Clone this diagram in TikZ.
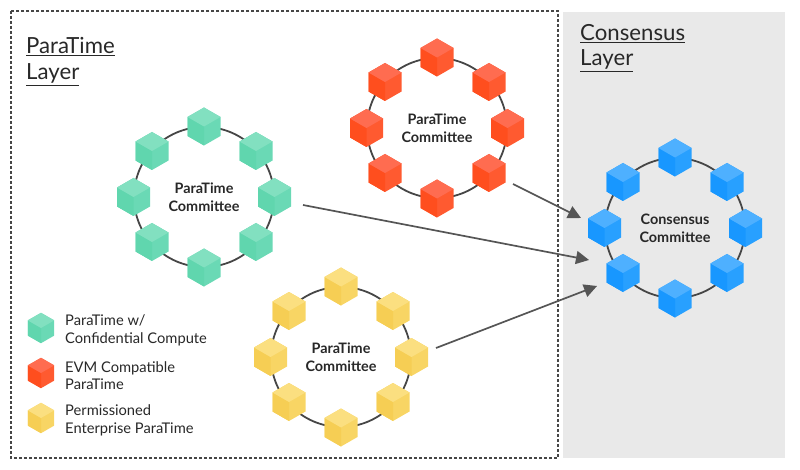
\documentclass[tikz,border=0pt]{standalone}
\usepackage{xcolor}
\usepackage{fontspec}
\setmainfont{Lato}
\usepackage{tikz}
\usetikzlibrary{arrows.meta, calc}
\definecolor{ptLine}{RGB}{70, 70, 70}
\definecolor{ptArrow}{RGB}{85, 85, 85}
\definecolor{ptText}{RGB}{40, 40, 40}
\definecolor{ptPanel}{RGB}{233, 233, 233}
\definecolor{tealTop}{RGB}{130, 224, 192}
\definecolor{tealLeft}{RGB}{96, 214, 174}
\definecolor{tealRight}{RGB}{106, 217, 181}
\definecolor{redTop}{RGB}{255, 108, 80}
\definecolor{redLeft}{RGB}{255, 78, 30}
\definecolor{redRight}{RGB}{255, 90, 48}
\definecolor{goldTop}{RGB}{251, 223, 128}
\definecolor{goldLeft}{RGB}{246, 206, 84}
\definecolor{goldRight}{RGB}{248, 213, 100}
\definecolor{blueTop}{RGB}{78, 176, 255}
\definecolor{blueLeft}{RGB}{24, 151, 255}
\definecolor{blueRight}{RGB}{40, 160, 255}
\tikzset{
    layertitle/.style={
        font=\fontsize{22.2}{25.5}\selectfont,
        text=ptText,
        align=left,
        anchor=base west,
        inner sep=0pt
    },
    ring/.style={
        circle,
        draw=ptLine,
        line width=1.8pt,
        minimum size=140pt,
        inner sep=0pt,
        align=center,
        text=ptText,
        font=\fontsize{14.4}{18}\selectfont\bfseries
    },
    legendtext/.style={
        font=\fontsize{14.7}{17.5}\selectfont,
        text=ptText,
        align=left,
        anchor=west,
        inner sep=0pt
    },
    flow/.style={
        -{Triangle[length=13pt,width=13pt]},
        line width=1.7pt,
        color=ptArrow
    },
    pics/cube/.style={
        code={
            \fill[#1Right] (0,-19) -- (16.5,-9.5) -- (16.5,9.5) -- (0,19) -- (-16.5,9.5) -- (-16.5,-9.5) -- cycle;
            \fill[#1Left] (-16.5,-9.5) -- (0,0) -- (0,19) -- (-16.5,9.5) -- cycle;
            \fill[#1Top] (0,-19) -- (16.5,-9.5) -- (0,0) -- (-16.5,-9.5) -- cycle;
        }
    }
}
% one ring with its eight cubes
\newcommand{\committee}[5]{%
  \node[ring] (#1) at (#2,#3) {#4\\Committee};
  \foreach \dx/\dy in {0/-70.5,52/-46,70.5/0,52/45,0/70.5,-52/45,-70.5/0,-52/-46}
    \pic at ($(#1)+(\dx,\dy)$) {cube=#5};
}
\begin{document}
\begin{tikzpicture}[x=1pt,y=-1pt]
  \useasboundingbox (0,0) rectangle (800,470);

  % The two layers
  \fill[ptPanel] (563,12) rectangle (785,458);
  \draw[densely dashed, line width=1.1pt, ptLine] (11,11) rectangle (558,458);
  \node[layertitle] (paratitle) at (26,79.5) {\underline{ParaTime}\\\underline{Layer}};
  \node[layertitle] (constitle) at (580,66) {\underline{Consensus}\\\underline{Layer}};

  % The committees
  \committee{redring}{437}{128}{ParaTime}{red}
  \committee{tealring}{204}{197}{ParaTime}{teal}
  \committee{goldring}{341}{357}{ParaTime}{gold}
  \committee{bluering}{675}{228}{Consensus}{blue}

  % The arrows
  \coordinate (redout) at (513,184);
  \coordinate (redin) at (581,218);
  \coordinate (tealout) at (303,205);
  \coordinate (tealin) at (589,260);
  \coordinate (goldout) at (436,348);
  \coordinate (goldin) at (597,286);
  \draw[flow] (redout) -- (redin);
  \draw[flow] (tealout) -- (tealin);
  \draw[flow] (goldout) -- (goldin);

  % The legend
  \pic[scale=0.8] at (41,328) {cube=teal};
  \pic[scale=0.8] at (41,373) {cube=red};
  \pic[scale=0.8] at (41,418) {cube=gold};
  \node[legendtext] (tealtext) at (65,330.5) {ParaTime w/\\Confidential Compute};
  \node[legendtext] (redtext) at (65,375.5) {EVM Compatible\\ParaTime};
  \node[legendtext] (goldtext) at (65,420.5) {Permissioned\\Enterprise ParaTime};
\end{tikzpicture}
\end{document}
